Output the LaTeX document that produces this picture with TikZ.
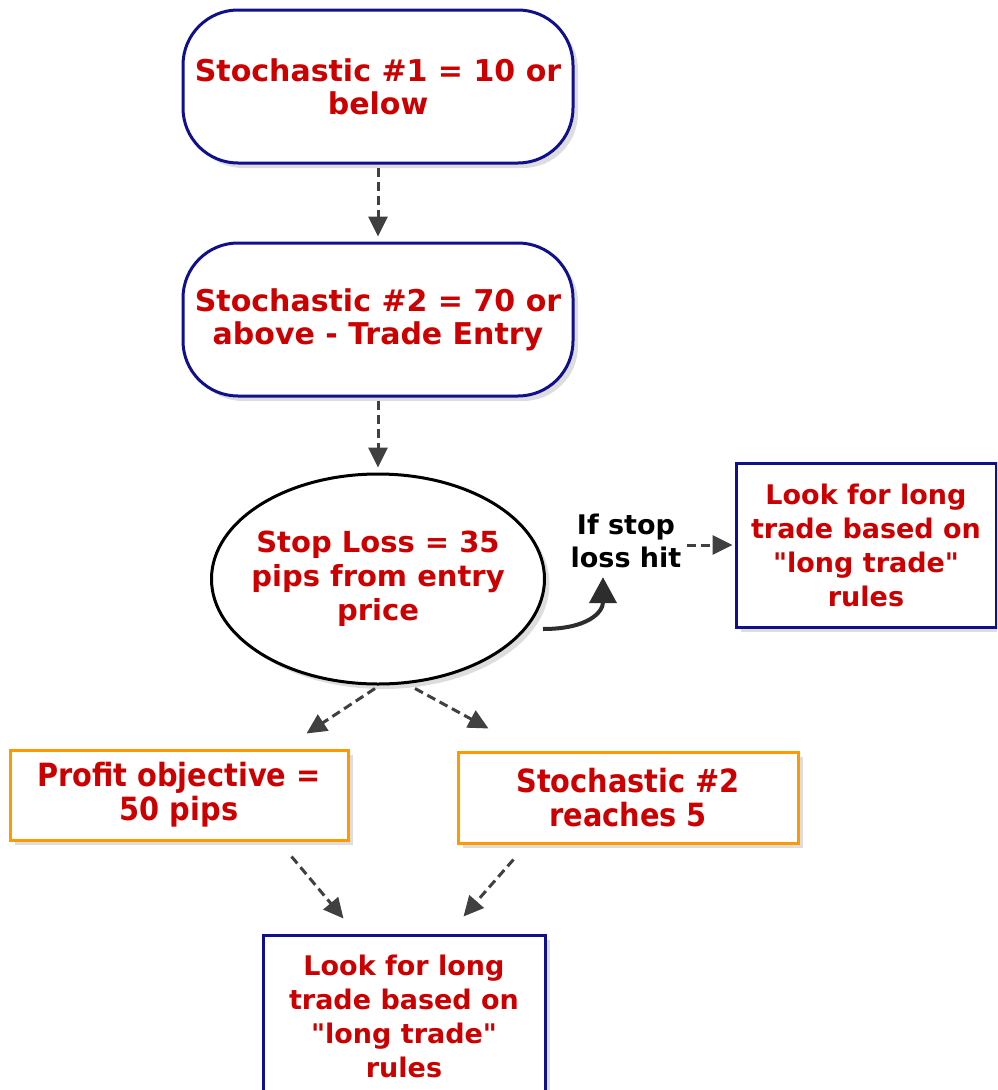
\documentclass[tikz,border=0pt]{standalone}
\usepackage{fontspec}
\setmainfont{DejaVu Sans}[Ligatures=TeXOff]
\newfontfamily\narrowfont{DejaVu Sans Condensed}[Ligatures=TeXOff]
\usepackage{tikz}
\usetikzlibrary{arrows.meta, calc, positioning, shadows, shapes.geometric}
\usepackage{xcolor}
\definecolor{TextRed}{RGB}{204, 0, 0}
\definecolor{EdgeNavy}{RGB}{16, 16, 140}
\definecolor{EdgeOrange}{RGB}{255, 153, 0}
\definecolor{ArrowGrey}{RGB}{64, 64, 64}
\tikzset{%
  soft_shadow/.style={%
    drop shadow={%
      shadow xshift=5pt,%
      shadow yshift=-5pt,%
      opacity=0.22,%
      fill=black!60%
    }%
  },
  round_block/.style={%
    rectangle,%
    rounded corners=55pt,%
    minimum width=390pt,%
    minimum height=153pt,%
    draw=EdgeNavy,%
    line width=3pt,%
    fill=white,%
    text=TextRed,%
    inner sep=0pt,%
    font={\fontsize{30}{33}\selectfont\bfseries},%
    align=center,%
    soft_shadow%
  },
  oval_block/.style={%
    ellipse,%
    minimum width=333pt,%
    minimum height=210pt,%
    draw=black,%
    line width=3pt,%
    fill=white,%
    text=TextRed,%
    inner xsep=-10pt,%
    inner ysep=0pt,%
    font={\fontsize{29}{34}\selectfont\bfseries},%
    align=center,%
    soft_shadow%
  },
  square_block/.style={%
    rectangle,%
    draw=EdgeNavy,%
    line width=3pt,%
    fill=white,%
    text=TextRed,%
    inner sep=0pt,%
    font={\fontsize{27}{34}\selectfont\bfseries},%
    align=center,%
    soft_shadow%
  },
  goal_block/.style={%
    rectangle,%
    minimum width=338pt,%
    minimum height=90pt,%
    draw=EdgeOrange,%
    line width=3pt,%
    fill=white,%
    text=TextRed,%
    inner sep=0pt,%
    font={\narrowfont\fontsize{32}{34}\selectfont\bfseries},%
    align=center,%
    soft_shadow%
  },
  note_text/.style={%
    text=black,%
    inner sep=0pt,%
    font={\fontsize{27}{33}\selectfont\bfseries},%
    align=center%
  },
  signal/.style={%
    draw=ArrowGrey,%
    line width=3pt,%
    dash pattern=on 9pt off 5pt,%
    -{Triangle[length=20pt, width=19pt]}%
  },
  curl_arrow/.style={%
    draw=ArrowGrey!70!black,%
    line width=4pt,%
    -{Triangle[length=26pt, width=27pt]}%
  },
}

\begin{document}
\begin{tikzpicture}[x=1pt, y=1pt]
    \clip (0, 0) rectangle (997, -1090);
    \node [round_block] (StochOne) at (378, -86.5)
      {Stochastic \#1 = 10 or\\below};
    \node [round_block, below=77pt of StochOne] (StochTwo)
      {Stochastic \#2 = 70 or\\above - Trade Entry};
    \node [oval_block, below=75pt of StochTwo] (StopLoss)
      {Stop Loss = 35\\pips from entry\\price};
    \node [note_text] (StopHit) at (626, -541) {If stop\\loss hit};
    \node [square_block, minimum width=260pt, minimum height=164pt]
      (LongRight) at (866, -545)
      {Look for long\\trade based on\\"long trade"\\rules};
    \node [goal_block] (Profit) at (179, -795) {Profit objective =\\50 pips};
    \node [goal_block, minimum width=340pt, minimum height=91pt]
      (Reaches) at (628, -797.5) {Stochastic \#2\\reaches 5};
    \node [square_block, minimum width=282pt, minimum height=162pt]
      (LongBottom) at (404, -1016)
      {Look for long\\trade based on\\"long trade"\\rules};

    \draw [signal, shorten <=3pt, shorten >=5pt]
      (StochOne.south) -- (StochTwo.north);
    \draw [signal, shorten <=3pt, shorten >=5pt]
      (StochTwo.south) -- (StopLoss.north);
    \draw [curl_arrow]
      ($(StopLoss.east)+(-3, -50)$)
      .. controls +(45, 0) and +(0, -35) ..
      ($(StopHit.south)+(-23, -9)$);
    \draw [signal, shorten <=5pt, shorten >=2pt]
      (StopHit.east |- LongRight.west) -- (LongRight.west);
    \draw [signal]
      ($(StopLoss.south)+(-3, -3)$) -- ($(Profit.north east)+(-43, 15)$);
    \draw [signal]
      ($(StopLoss.south)+(37, -3)$) -- ($(Reaches.north west)+(32, 22)$);
    \draw [signal]
      ($(Profit.south east)+(-58, -15)$) -- ($(LongBottom.north west)+(82, 15)$);
    \draw [signal]
      ($(Reaches.south west)+(57, -15)$) -- ($(LongBottom.north east)+(-83, 17)$);
  \end{tikzpicture}
\end{document}
